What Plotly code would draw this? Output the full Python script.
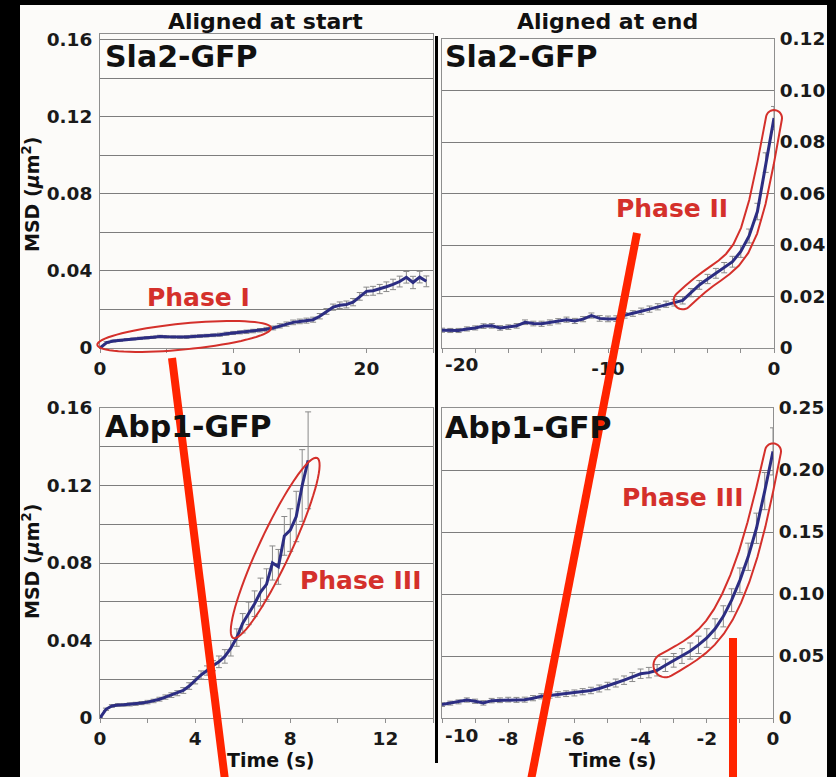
import math
import plotly.graph_objects as go

W, H = 836, 777

# ---------------- data ----------------
sla2_start_time = [round(0.5 * i, 2) for i in range(50)]
sla2_start_msd = [0.0000, 0.0028, 0.0036, 0.0040, 0.0044, 0.0047, 0.0050, 0.0053, 0.0056, 0.0060,
                  0.0058, 0.0057, 0.0056, 0.0057, 0.0060, 0.0062, 0.0064, 0.0066, 0.0069, 0.0074,
                  0.0078, 0.0081, 0.0084, 0.0088, 0.0092, 0.0097, 0.0104, 0.0115, 0.0124, 0.0133,
                  0.0138, 0.0142, 0.0147, 0.0165, 0.0190, 0.0212, 0.0222, 0.0226, 0.0238, 0.0268,
                  0.0294, 0.0297, 0.0306, 0.0318, 0.0330, 0.0345, 0.0367, 0.0340, 0.0368, 0.0346]
sla2_start_err = [0.0003, 0.0005, 0.0005, 0.0005, 0.0005, 0.0005, 0.0006, 0.0006, 0.0006, 0.0006,
                  0.0006, 0.0006, 0.0006, 0.0007, 0.0007, 0.0007, 0.0007, 0.0007, 0.0008, 0.0008,
                  0.0008, 0.0008, 0.0009, 0.0009, 0.0009, 0.0010, 0.0010, 0.0011, 0.0011, 0.0012,
                  0.0012, 0.0013, 0.0013, 0.0014, 0.0015, 0.0016, 0.0017, 0.0018, 0.0019, 0.0020,
                  0.0022, 0.0023, 0.0024, 0.0025, 0.0027, 0.0028, 0.0030, 0.0032, 0.0030, 0.0028]

sla2_end_time = [round(-20 + 0.5 * i, 2) for i in range(41)]
sla2_end_msd = [0.0069, 0.0068, 0.0068, 0.0074, 0.0078, 0.0085, 0.0086, 0.0078, 0.0081, 0.0086,
                0.0100, 0.0095, 0.0094, 0.0099, 0.0104, 0.0110, 0.0105, 0.0112, 0.0126, 0.0115,
                0.0113, 0.0114, 0.0127, 0.0134, 0.0143, 0.0151, 0.0160, 0.0170, 0.0176, 0.0185,
                0.0215, 0.0245, 0.0268, 0.0290, 0.0312, 0.0335, 0.0375, 0.0435, 0.0530, 0.0720,
                0.0893]
sla2_end_err = [0.0008, 0.0008, 0.0008, 0.0008, 0.0008, 0.0009, 0.0009, 0.0009, 0.0009, 0.0009,
                0.0009, 0.0009, 0.0010, 0.0010, 0.0010, 0.0010, 0.0010, 0.0010, 0.0010, 0.0011,
                0.0011, 0.0011, 0.0011, 0.0011, 0.0012, 0.0012, 0.0012, 0.0012, 0.0013, 0.0014,
                0.0016, 0.0017, 0.0018, 0.0019, 0.0020, 0.0021, 0.0023, 0.0027, 0.0032, 0.0038,
                0.0045]

abp1_start_time = [round(0.25 * i, 2) for i in range(36)]
abp1_start_msd = [0.0000, 0.0045, 0.0062, 0.0067, 0.0068, 0.0070, 0.0073, 0.0077, 0.0082, 0.0088,
                  0.0097, 0.0108, 0.0118, 0.0128, 0.0142, 0.0165, 0.0195, 0.0222, 0.0245, 0.0270,
                  0.0290, 0.0318, 0.0360, 0.0415, 0.0489, 0.0540, 0.0590, 0.0650, 0.0690, 0.0800,
                  0.0780, 0.0940, 0.0970, 0.1040, 0.1200, 0.1330]
abp1_start_err = [0.0003, 0.0006, 0.0007, 0.0007, 0.0007, 0.0008, 0.0008, 0.0008, 0.0009, 0.0009,
                  0.0010, 0.0011, 0.0012, 0.0013, 0.0015, 0.0017, 0.0019, 0.0021, 0.0024, 0.0026,
                  0.0030, 0.0035, 0.0040, 0.0045, 0.0050, 0.0058, 0.0066, 0.0072, 0.0080, 0.0088,
                  0.0090, 0.0100, 0.0110, 0.0130, 0.0185, 0.0250]

abp1_end_time = [round(-10 + 0.25 * i, 2) for i in range(41)]
abp1_end_msd = [0.0108, 0.0120, 0.0130, 0.0145, 0.0135, 0.0122, 0.0140, 0.0143, 0.0148, 0.0146,
                0.0148, 0.0160, 0.0175, 0.0182, 0.0190, 0.0196, 0.0202, 0.0212, 0.0222, 0.0238,
                0.0258, 0.0282, 0.0305, 0.0330, 0.0357, 0.0366, 0.0385, 0.0425, 0.0465, 0.0500,
                0.0540, 0.0590, 0.0645, 0.0720, 0.0820, 0.0950, 0.1110, 0.1300, 0.1530, 0.1830,
                0.2150]
abp1_end_err = [0.0015, 0.0016, 0.0016, 0.0017, 0.0017, 0.0018, 0.0018, 0.0019, 0.0019, 0.0020,
                0.0020, 0.0021, 0.0021, 0.0022, 0.0022, 0.0023, 0.0024, 0.0025, 0.0026, 0.0028,
                0.0030, 0.0032, 0.0034, 0.0036, 0.0038, 0.0042, 0.0046, 0.0050, 0.0055, 0.0060,
                0.0065, 0.0070, 0.0075, 0.0080, 0.0085, 0.0092, 0.0100, 0.0110, 0.0122, 0.0150,
                0.0190]

# tick labels
p1_xticks = [0, 10, 20]
p1_yticks = [0, 0.04, 0.08, 0.12, 0.16]
p1_yticktext = ["0", "0.04", "0.08", "0.12", "0.16"]
p2_xticks = [-20, -10, 0]
p2_yticks = [0, 0.02, 0.04, 0.06, 0.08, 0.10, 0.12]
p2_yticktext = ["0", "0.02", "0.04", "0.06", "0.08", "0.10", "0.12"]
p3_xticks = [0, 4, 8, 12]
p3_yticks = [0, 0.04, 0.08, 0.12, 0.16]
p3_yticktext = ["0", "0.04", "0.08", "0.12", "0.16"]
p4_xticks = [-10, -8, -6, -4, -2, 0]
p4_yticks = [0, 0.05, 0.10, 0.15, 0.20, 0.25]
p4_yticktext = ["0", "0.05", "0.10", "0.15", "0.20", "0.25"]

# ---------------- layout geometry (pixels) ----------------
FONT = "DejaVu Sans"
BG = "#fcfbf9"
GRID = "#7d7d7d"
FRAME = "#8f8f8f"
LINE = "#2c2d82"
ERR = "#8a8a8a"
PHASE = "#d4302b"
MARK = "#ff2400"

panels = {
    1: dict(box=(100, 433, 34, 348), xr=(0, 25), yr=(0, 0.163)),
    2: dict(box=(442, 774, 39, 348), xr=(-20, 0), yr=(0, 0.12)),
    3: dict(box=(100, 433, 408, 718), xr=(0, 14), yr=(0, 0.16)),
    4: dict(box=(442, 773, 408, 718), xr=(-10, 0), yr=(0, 0.25)),
}


def px_x(px):
    return px / W


def px_y(py):
    return 1 - py / H


def data_to_px(p, t, v):
    x0, x1, y0, y1 = panels[p]["box"]
    r0, r1 = panels[p]["xr"]
    s0, s1 = panels[p]["yr"]
    return (x0 + (t - r0) / (r1 - r0) * (x1 - x0), y1 - (v - s0) / (s1 - s0) * (y1 - y0))


def path_from_px(points):
    s = "M {:.5f},{:.5f} ".format(px_x(points[0][0]), px_y(points[0][1]))
    s += " ".join("L {:.5f},{:.5f}".format(px_x(a), px_y(b)) for a, b in points[1:])
    return s + " Z"


def ellipse_path(p, a_pt, b_pt, semi_minor):
    (ax, ay) = data_to_px(p, *a_pt)
    (bx, by) = data_to_px(p, *b_pt)
    cx, cy = (ax + bx) / 2, (ay + by) / 2
    semi_major = math.hypot(bx - ax, by - ay) / 2
    ang = math.atan2(by - ay, bx - ax)
    pts = []
    for k in range(72):
        th = 2 * math.pi * k / 72
        ex, ey = semi_major * math.cos(th), semi_minor * math.sin(th)
        pts.append((cx + ex * math.cos(ang) - ey * math.sin(ang),
                    cy + ex * math.sin(ang) + ey * math.cos(ang)))
    return path_from_px(pts)


def sausage_path(p, ts, vs, t_from, r_start, r_end):
    pts = [data_to_px(p, t, v) for t, v in zip(ts, vs) if t >= t_from - 1e-9]
    for _ in range(2):
        pts = [pts[0]] + [((pts[i - 1][0] + 2 * pts[i][0] + pts[i + 1][0]) / 4,
                           (pts[i - 1][1] + 2 * pts[i][1] + pts[i + 1][1]) / 4)
                          for i in range(1, len(pts) - 1)] + [pts[-1]]
    n = len(pts)
    cum = [0.0]
    for i in range(1, n):
        cum.append(cum[-1] + math.hypot(pts[i][0] - pts[i - 1][0], pts[i][1] - pts[i - 1][1]))
    left, right, dirs = [], [], []
    for i in range(n):
        a = pts[max(i - 1, 0)]
        b = pts[min(i + 1, n - 1)]
        dx, dy = b[0] - a[0], b[1] - a[1]
        L = math.hypot(dx, dy)
        nx, ny = -dy / L, dx / L
        r = r_start + (r_end - r_start) * cum[i] / cum[-1]
        left.append((pts[i][0] + nx * r, pts[i][1] + ny * r))
        right.append((pts[i][0] - nx * r, pts[i][1] - ny * r))
        dirs.append(math.atan2(dy, dx))
    N = 16
    end_cap = [(pts[-1][0] + r_end * math.cos(dirs[-1] + math.pi / 2 - k * math.pi / N),
                pts[-1][1] + r_end * math.sin(dirs[-1] + math.pi / 2 - k * math.pi / N))
               for k in range(1, N)]
    start_cap = [(pts[0][0] + r_start * math.cos(dirs[0] - math.pi / 2 - k * math.pi / N),
                  pts[0][1] + r_start * math.sin(dirs[0] - math.pi / 2 - k * math.pi / N))
                 for k in range(1, N)]
    return path_from_px(left + end_cap + right[::-1] + start_cap)


fig = go.Figure()

series = [
    (1, sla2_start_time, sla2_start_msd, sla2_start_err),
    (2, sla2_end_time, sla2_end_msd, sla2_end_err),
    (3, abp1_start_time, abp1_start_msd, abp1_start_err),
    (4, abp1_end_time, abp1_end_msd, abp1_end_err),
]
for p, t, v, e in series:
    fig.add_trace(go.Scatter(
        x=t, y=v, mode="lines",
        line=dict(color=LINE, width=3),
        error_y=dict(type="data", array=e, color=ERR, thickness=1, width=3),
        xaxis="x" if p == 1 else "x%d" % p,
        yaxis="y" if p == 1 else "y%d" % p,
        showlegend=False, hoverinfo="skip",
    ))

tickfont = dict(family=FONT, size=18.5, color="#1a1a1a", weight="bold")

xticks = {1: (p1_xticks, 5), 2: (p2_xticks[1:], 2), 3: (p3_xticks, 2), 4: (p4_xticks[1:], 1)}
yticks = {1: (p1_yticks, p1_yticktext, 0.02, "left"),
          2: (p2_yticks, p2_yticktext, 0.02, "right"),
          3: (p3_yticks, p3_yticktext, 0.02, "left"),
          4: (p4_yticks, p4_yticktext, 0.05, "right")}

layout = dict(
    width=W, height=H,
    margin=dict(l=0, r=0, t=0, b=0, autoexpand=False),
    paper_bgcolor="black", plot_bgcolor=BG,
    showlegend=False,
)
for p in panels:
    x0, x1, y0, y1 = panels[p]["box"]
    xname = "xaxis" if p == 1 else "xaxis%d" % p
    yname = "yaxis" if p == 1 else "yaxis%d" % p
    xa = "x" if p == 1 else "x%d" % p
    ya = "y" if p == 1 else "y%d" % p
    tv, mdt = xticks[p]
    layout[xname] = dict(
        domain=[px_x(x0), px_x(x1)], anchor=ya, range=list(panels[p]["xr"]),
        automargin=False,
        tickmode="array", tickvals=tv, ticktext=[str(k) for k in tv],
        ticks="", showgrid=False, zeroline=False,
        showline=True, linecolor=FRAME, linewidth=1, mirror=True,
        tickfont=tickfont, ticklabelstandoff=4,
        minor=dict(tickmode="linear", tick0=0, dtick=mdt, ticks="outside",
                   ticklen=4, tickcolor=FRAME, showgrid=False),
    )
    yv, yt, gdt, side = yticks[p]
    layout[yname] = dict(
        domain=[px_y(y1), px_y(y0)], anchor=xa, range=list(panels[p]["yr"]),
        automargin=False,
        side=side, tickmode="array", tickvals=yv, ticktext=yt,
        ticks="", showgrid=True, gridcolor=GRID, gridwidth=1, zeroline=False,
        showline=True, linecolor=FRAME, linewidth=1, mirror=True,
        tickfont=tickfont, ticklabelstandoff=3 if side == "left" else 1,
        minor=dict(tickmode="linear", tick0=0, dtick=gdt, showgrid=True,
                   gridcolor=GRID, gridwidth=1, ticks=""),
    )
fig.update_layout(**layout)

shapes = []
# white page behind the panels
shapes.append(dict(type="rect", xref="paper", yref="paper", layer="below",
                   x0=px_x(20), x1=px_x(827), y0=px_y(777), y1=px_y(5),
                   fillcolor=BG, line=dict(width=0)))
# phase outlines
shapes.append(dict(type="path", xref="paper", yref="paper",
                   path=ellipse_path(1, (-0.2, 0.0016), (12.85, 0.0104), 13),
                   line=dict(color=PHASE, width=2)))
shapes.append(dict(type="path", xref="paper", yref="paper",
                   path=sausage_path(2, sla2_end_time, sla2_end_msd, -5.5, 9, 8),
                   line=dict(color=PHASE, width=2)))
shapes.append(dict(type="path", xref="paper", yref="paper",
                   path=ellipse_path(3, (5.6, 0.0413), (9.13, 0.1342), 16),
                   line=dict(color=PHASE, width=2)))
shapes.append(dict(type="path", xref="paper", yref="paper",
                   path=sausage_path(4, abp1_end_time, abp1_end_msd, -3.25, 12, 8),
                   line=dict(color=PHASE, width=2)))
# separator
shapes.append(dict(type="line", xref="paper", yref="paper",
                   x0=px_x(436.5), x1=px_x(436.5), y0=px_y(36), y1=px_y(763),
                   line=dict(color="black", width=3)))
# red overlay strokes
for (ax, ay, bx, by) in [(172, 358, 225, 780), (637, 233, 531, 780), (733, 638, 733, 780)]:
    shapes.append(dict(type="line", xref="paper", yref="paper",
                       x0=px_x(ax), y0=px_y(ay), x1=px_x(bx), y1=px_y(by),
                       line=dict(color=MARK, width=8)))
fig.update_layout(shapes=shapes)

ann = []


def text(px, py, s, size, color="#111111", xanchor="center", yanchor="middle", angle=0):
    ann.append(dict(x=px_x(px), y=px_y(py), xref="paper", yref="paper", text=s,
                    showarrow=False, xanchor=xanchor, yanchor=yanchor, textangle=angle,
                    font=dict(family=FONT, size=size, color=color, weight="bold")))


text(265, 22, "Aligned at start", 22)
text(607, 22, "Aligned at end", 22)
text(103, 57, "Sla2-GFP", 30, xanchor="left")
text(443, 57, "Sla2-GFP", 30, xanchor="left")
text(103, 426, "Abp1-GFP", 30, xanchor="left")
text(443, 427, "Abp1-GFP", 30, xanchor="left")
text(31, 195, "MSD (<i>μ</i>m<sup>2</sup>)", 19, angle=-90)
text(31, 562, "MSD (<i>μ</i>m<sup>2</sup>)", 19, angle=-90)
text(270, 760, "Time (s)", 19)
text(612, 760, "Time (s)", 19)
text(198, 297, "Phase I", 25, color=PHASE)
text(672, 208, "Phase II", 25, color=PHASE)
text(360, 580, "Phase III", 25, color=PHASE)
text(682, 497, "Phase III", 25, color=PHASE)
# edge tick labels that hug the left frame
text(443, 364, str(p2_xticks[0]), 18.5, color="#1a1a1a", xanchor="left")
text(443, 735, str(p4_xticks[0]), 18.5, color="#1a1a1a", xanchor="left")
fig.update_layout(annotations=ann)

fig.write_html("out.html", config={"displayModeBar": False})

# remove the default page margin so the figure fills the window exactly
with open("out.html", "r", encoding="utf-8") as fh:
    html = fh.read()
html = html.replace("<head>", "<head><style>html,body{margin:0;padding:0;overflow:hidden;background:black;}</style>", 1)
with open("out.html", "w", encoding="utf-8") as fh:
    fh.write(html)
